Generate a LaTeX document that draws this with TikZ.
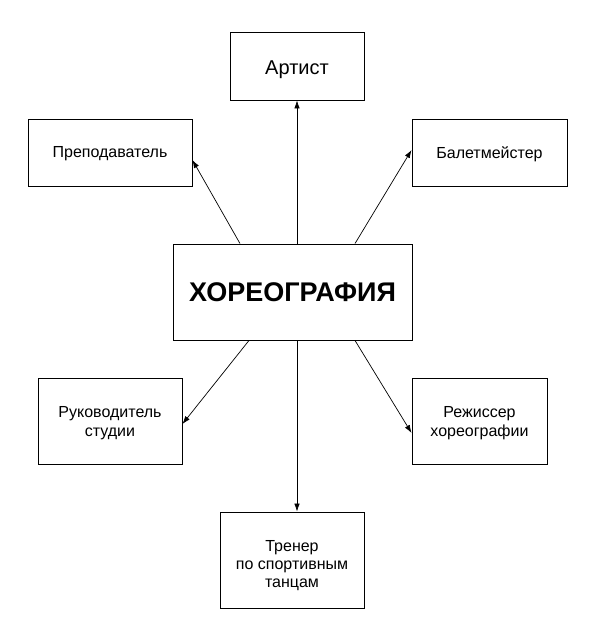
\documentclass[tikz,border=0pt]{standalone}
\usepackage{fontspec}
\setmainfont{Liberation Sans}
\usetikzlibrary{arrows.meta}
\begin{document}
\begin{tikzpicture}[x=1pt,y=-1pt,
  box/.style={draw,line width=0.9pt,inner sep=0pt},
  txt/.style={align=center,inner sep=0pt,font=\fontsize{16}{19}\selectfont},
  conn/.style={line width=0.7pt,-{Latex[length=8pt,width=5.5pt]}}]
\useasboundingbox (0,0) rectangle (598,638);
\fill[white] (0,0) rectangle (598,638);
\node[box,minimum width=134pt,minimum height=68pt] (art) at (297,66) {};
\node[txt,font=\fontsize{20}{23}\selectfont] (artt) at ([yshift=-4pt]art.center) {Артист};
\node[box,minimum width=164pt,minimum height=67pt] (pre) at (110,152.5) {};
\node[txt] (pret) at ([yshift=-1.5pt]pre.center) {Преподаватель};
\node[box,minimum width=155pt,minimum height=67pt] (bal) at (489.5,152.5) {};
\node[txt] (balt) at ([yshift=-1.5pt]bal.center) {Балетмейстер};
\node[box,minimum width=239pt,minimum height=96pt,font=\fontsize{27}{31}\selectfont\bfseries] (c) at (292.5,292) {ХОРЕОГРАФИЯ};
\node[box,minimum width=144pt,minimum height=86pt] (ruk) at (110,421) {};
\node[txt] (rukt) at ([yshift=-2.5pt]ruk.center) {Руководитель\\студии};
\node[box,minimum width=135pt,minimum height=86pt] (rez) at (479.5,421) {};
\node[txt] (rezt) at ([yshift=-2.5pt]rez.center) {Режиссер\\хореографии};
\node[box,minimum width=144pt,minimum height=96pt] (tr) at (292,560) {};
\node[txt,font=\fontsize{16}{18}\selectfont] (trt) at ([yshift=-6pt]tr.center) {Тренер\\по спортивным\\танцам};
\coordinate (axis) at (297,0);
\draw[conn] (c.north -| axis) -- (art.south -| axis);
\draw[conn] ([xshift=-52.5pt]c.north) -- (pre.east |- 0,160);
\draw[conn] ([xshift=62.5pt]c.north) -- (bal.west |- 0,150);
\draw[conn] (c.south -| axis) -- (tr.north -| axis);
\draw[conn] ([xshift=-43.5pt]c.south) -- (ruk.east |- 0,424);
\draw[conn] ([xshift=62.5pt]c.south) -- (rez.west |- 0,433);
\end{tikzpicture}
\end{document}
